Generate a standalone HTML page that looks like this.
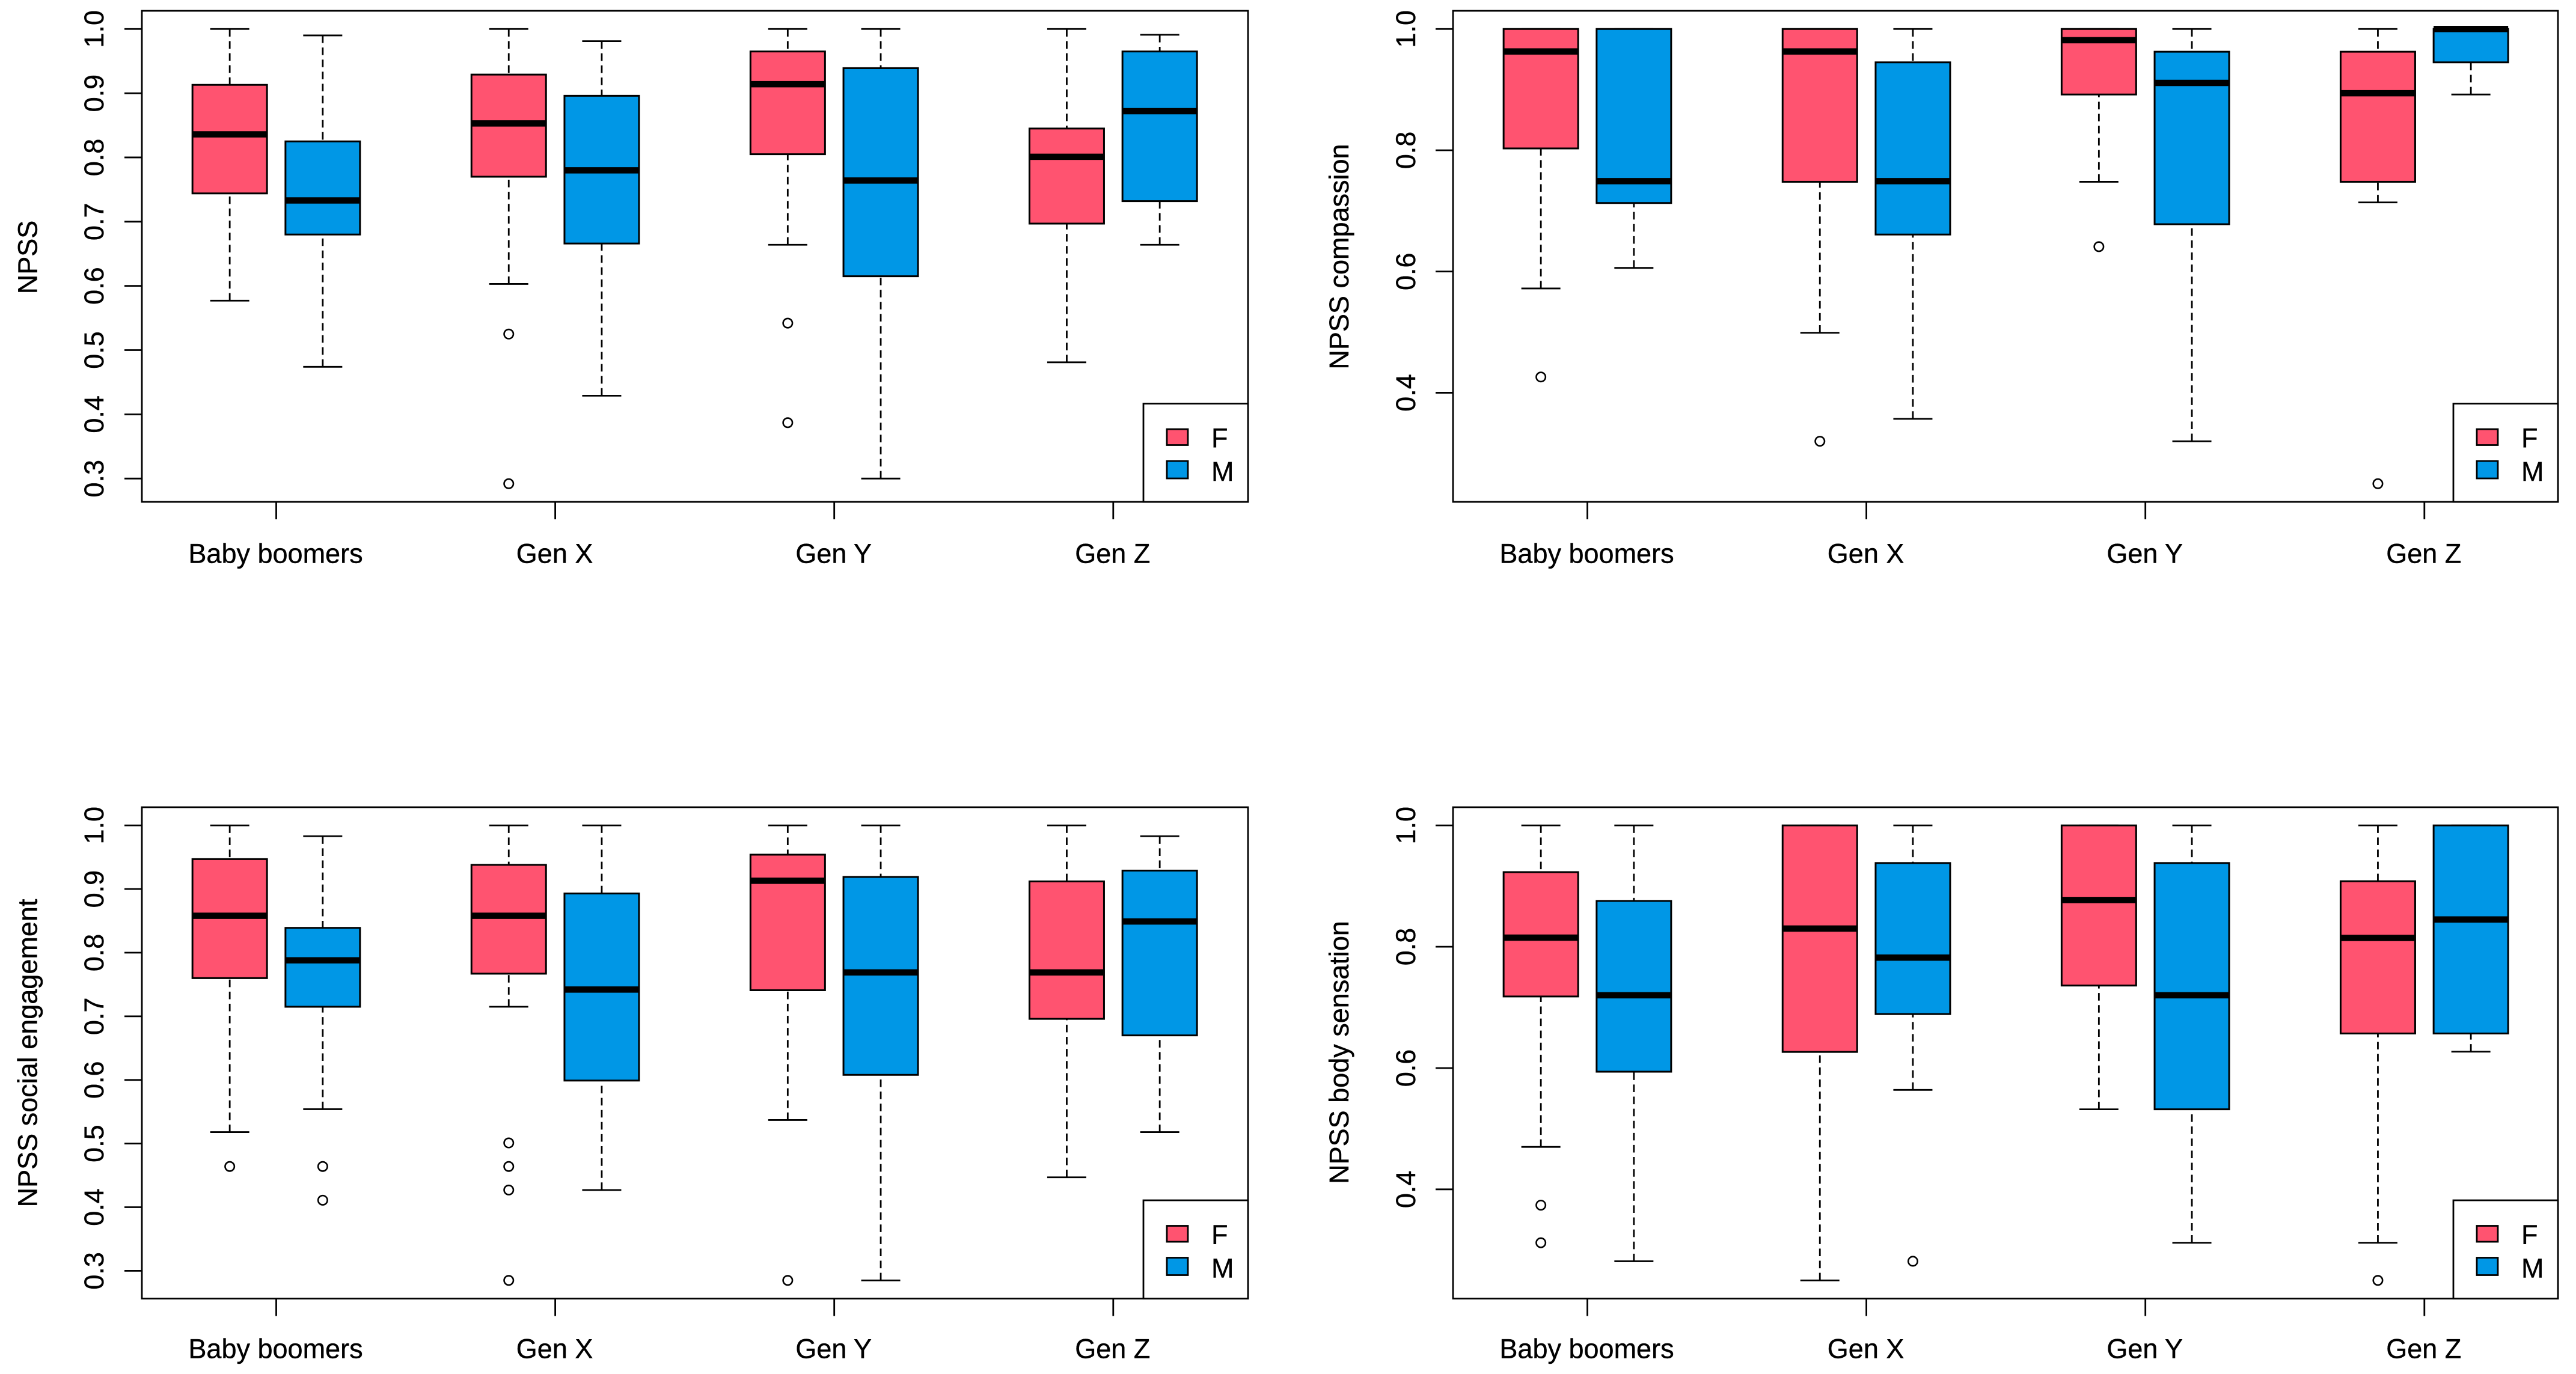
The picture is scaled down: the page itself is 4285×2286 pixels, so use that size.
<!DOCTYPE html>
<html lang="en">
<head>
<meta charset="utf-8">
<title>NPSS box plots by generation and sex</title>
<style>
html,body{margin:0;padding:0;background:#fff;}
svg{display:block;}
text{font-family:"Liberation Sans",Arial,sans-serif;font-size:45px;fill:#000;stroke:#000;stroke-width:0.4px;}
</style>
</head>
<body>
<svg id="chart" xmlns="http://www.w3.org/2000/svg" width="4285" height="2286" viewBox="0 0 4285 2286">
<rect x="0" y="0" width="4285" height="2286" fill="#fff"/>
</svg>
<script>
// Box order in every series: Baby F, Baby M, Gen X F, Gen X M, Gen Y F, Gen Y M, Gen Z F, Gen Z M
const categories = ['Baby boomers', 'Gen X', 'Gen Y', 'Gen Z'];
const legendLabels = ['F', 'M'];

const npssHigh = [1, 0.99, 1, 0.981, 1, 1, 1, 0.991];
const npssQ3 = [0.913, 0.825, 0.929, 0.896, 0.965, 0.939, 0.845, 0.965];
const npssMedian = [0.836, 0.733, 0.853, 0.78, 0.914, 0.764, 0.801, 0.872];
const npssQ1 = [0.744, 0.68, 0.77, 0.666, 0.805, 0.615, 0.697, 0.732];
const npssLow = [0.577, 0.474, 0.603, 0.429, 0.664, 0.3, 0.481, 0.664];
const npssOutliers = [[], [], [0.525, 0.292], [], [0.542, 0.387], [], [], []];
const npssTicks = ['0.3', '0.4', '0.5', '0.6', '0.7', '0.8', '0.9', '1.0'];

const compassionHigh = [1, 1, 1, 1, 1, 1, 1, 1];
const compassionQ3 = [1, 1, 1, 0.945, 1, 0.9625, 0.9625, 1];
const compassionMedian = [0.963, 0.749, 0.963, 0.749, 0.9815, 0.911, 0.894, 1];
const compassionQ1 = [0.803, 0.713, 0.748, 0.661, 0.892, 0.678, 0.748, 0.945];
const compassionLow = [0.572, 0.606, 0.499, 0.357, 0.748, 0.32, 0.714, 0.892];
const compassionOutliers = [[0.426], [], [0.32], [], [0.641], [], [0.25], []];
const compassionTicks = ['0.4', '0.6', '0.8', '1.0'];

const socialHigh = [1, 0.983, 1, 1, 1, 1, 1, 0.983];
const socialQ3 = [0.947, 0.839, 0.938, 0.893, 0.954, 0.919, 0.912, 0.929];
const socialMedian = [0.858, 0.788, 0.858, 0.742, 0.913, 0.769, 0.769, 0.849];
const socialQ1 = [0.76, 0.715, 0.767, 0.599, 0.741, 0.608, 0.696, 0.67];
const socialLow = [0.518, 0.554, 0.715, 0.427, 0.537, 0.285, 0.447, 0.518];
const socialOutliers = [[0.464], [0.464, 0.411], [0.501, 0.464, 0.427, 0.285], [], [0.285], [], [], []];
const socialTicks = ['0.3', '0.4', '0.5', '0.6', '0.7', '0.8', '0.9', '1.0'];

const bodyHigh = [1, 1, 1, 1, 1, 1, 1, 1];
const bodyQ3 = [0.923, 0.8755, 1, 0.938, 1, 0.938, 0.908, 1];
const bodyMedian = [0.815, 0.72, 0.83, 0.782, 0.877, 0.72, 0.8145, 0.845];
const bodyQ1 = [0.718, 0.594, 0.6266, 0.689, 0.736, 0.532, 0.657, 0.657];
const bodyLow = [0.47, 0.2815, 0.25, 0.564, 0.532, 0.312, 0.312, 0.627];
const bodyOutliers = [[0.374, 0.312], [], [], [0.2815], [], [], [0.25], []];
const bodyTicks = ['0.4', '0.6', '0.8', '1.0'];

const svg = document.getElementById('chart');
const NS = 'http://www.w3.org/2000/svg';
const PINK = '#FF5370';
const BLUE = '#0097E6';
const STROKE = '#000';

function make(tag, attrs, parent) {
  const el = document.createElementNS(NS, tag);
  for (const k in attrs) el.setAttribute(k, attrs[k]);
  parent.appendChild(el);
  return el;
}

function drawPanel(p) {
  const g = make('g', {}, svg);
  
  

  const unit = 154.7;
  const x = function (u) { return p.left + 223.5 + (u - 1.5) * unit; };
  const y = function (v) { return p.bottom - (v - p.domain[0]) / (p.domain[1] - p.domain[0]) * (p.bottom - p.top); };
  const positions = [1, 2, 4, 5, 7, 8, 10, 11];
  const halfBox = 62;
  const halfCap = 32.5;

  // y axis
  p.ticks.forEach(function (t) {
    const v = parseFloat(t);
    const tick = make('line', { x1: p.left - 29, x2: p.left, y1: y(v), y2: y(v), stroke: STROKE, 'stroke-width': 2.8 }, g);
    
    
    const lbl = make('text', { x: p.tickX, y: y(v), 'text-anchor': 'middle', transform: 'rotate(-90 ' + p.tickX + ' ' + y(v) + ')' }, g);
    lbl.textContent = t;
    
    
  });
  const yTitle = make('text', { x: p.titleX, y: p.titleY, 'text-anchor': 'middle', transform: 'rotate(-90 ' + p.titleX + ' ' + p.titleY + ')' }, g);
  yTitle.textContent = p.title;
  
  

  // x axis
  categories.forEach(function (c, i) {
    const u = 1.5 + i * 3;
    const tick = make('line', { x1: x(u), x2: x(u), y1: p.bottom, y2: p.bottom + 29, stroke: STROKE, 'stroke-width': 2.8 }, g);
    
    
    const lbl = make('text', { x: x(u) - 1, y: p.labelY, 'text-anchor': 'middle' }, g);
    lbl.textContent = c;
    
    
  });

  // boxes
  positions.forEach(function (u, i) {
    const cx = x(u);
    const fill = i % 2 === 0 ? PINK : BLUE;
    const id = p.name + '-box-' + i;

    const upper = make('line', { x1: cx, x2: cx, y1: y(p.high[i]), y2: y(p.q3[i]), stroke: STROKE, 'stroke-width': 2.8, 'stroke-dasharray': '12.6 7.5' }, g);
    
    
    const lower = make('line', { x1: cx, x2: cx, y1: y(p.low[i]), y2: y(p.q1[i]), stroke: STROKE, 'stroke-width': 2.8, 'stroke-dasharray': '12.6 7.5' }, g);
    
    

    const capHigh = make('line', { x1: cx - halfCap, x2: cx + halfCap, y1: y(p.high[i]), y2: y(p.high[i]), stroke: STROKE, 'stroke-width': 2.8 }, g);
    
    
    const capLow = make('line', { x1: cx - halfCap, x2: cx + halfCap, y1: y(p.low[i]), y2: y(p.low[i]), stroke: STROKE, 'stroke-width': 2.8 }, g);
    
    

    const rect = make('rect', { x: cx - halfBox, y: y(p.q3[i]), width: halfBox * 2, height: y(p.q1[i]) - y(p.q3[i]), fill: fill, stroke: STROKE, 'stroke-width': 3 }, g);
    
    

    const med = make('line', { x1: cx - halfBox, x2: cx + halfBox, y1: y(p.median[i]), y2: y(p.median[i]), stroke: STROKE, 'stroke-width': 10.5 }, g);
    
    

    p.outliers[i].forEach(function (v, k) {
      const pt = make('circle', { cx: cx, cy: y(v), r: 7.7, fill: 'none', stroke: STROKE, 'stroke-width': 2.6 }, g);
      
      
    });
  });

  // frame
  const frame = make('rect', { x: p.left, y: p.top, width: p.right - p.left, height: p.bottom - p.top, fill: 'none', stroke: STROKE, 'stroke-width': 2.8 }, g);
  
  

  // legend
  const legend = make('g', {}, g);
  
  
  const legBox = make('rect', { x: p.right - 174, y: p.bottom - 163.5, width: 174, height: 163.5, fill: '#fff', stroke: STROKE, 'stroke-width': 2.8 }, legend);
  
  
  legendLabels.forEach(function (label, i) {
    const sy = i === 0 ? p.bottom - 121 : p.bottom - 68;
    const sh = i === 0 ? 26.5 : 29;
    const sw = make('rect', { x: p.right - 135, y: sy, width: 35, height: sh, fill: i === 0 ? PINK : BLUE, stroke: STROKE, 'stroke-width': 2.8 }, legend);
    
    
    const tx = make('text', { x: p.right - 61, y: i === 0 ? p.bottom - 91 : p.bottom - 35 }, legend);
    tx.textContent = label;
    
    
  });
}

drawPanel({ name: 'npss', title: 'NPSS', left: 236, right: 2076, top: 18, bottom: 835, labelY: 936.5, domain: [0.2637, 1.0283], tickX: 172, titleX: 61.5, titleY: 428,
  ticks: npssTicks, high: npssHigh, q3: npssQ3, median: npssMedian, q1: npssQ1, low: npssLow, outliers: npssOutliers });
drawPanel({ name: 'compassion', title: 'NPSS compassion', left: 2417, right: 4255, top: 18, bottom: 835, labelY: 936.5, domain: [0.22, 1.03], tickX: 2354, titleX: 2243, titleY: 427,
  ticks: compassionTicks, high: compassionHigh, q3: compassionQ3, median: compassionMedian, q1: compassionQ1, low: compassionLow, outliers: compassionOutliers });
drawPanel({ name: 'social', title: 'NPSS social engagement', left: 236, right: 2076, top: 1343, bottom: 2160.5, labelY: 2259.5, domain: [0.2564, 1.0286], tickX: 172, titleX: 61.5, titleY: 1752,
  ticks: socialTicks, high: socialHigh, q3: socialQ3, median: socialMedian, q1: socialQ1, low: socialLow, outliers: socialOutliers });
drawPanel({ name: 'body-sensation', title: 'NPSS body sensation', left: 2417, right: 4255, top: 1343, bottom: 2160.5, labelY: 2259.5, domain: [0.22, 1.03], tickX: 2354, titleX: 2243, titleY: 1751,
  ticks: bodyTicks, high: bodyHigh, q3: bodyQ3, median: bodyMedian, q1: bodyQ1, low: bodyLow, outliers: bodyOutliers });
</script>
</body>
</html>
